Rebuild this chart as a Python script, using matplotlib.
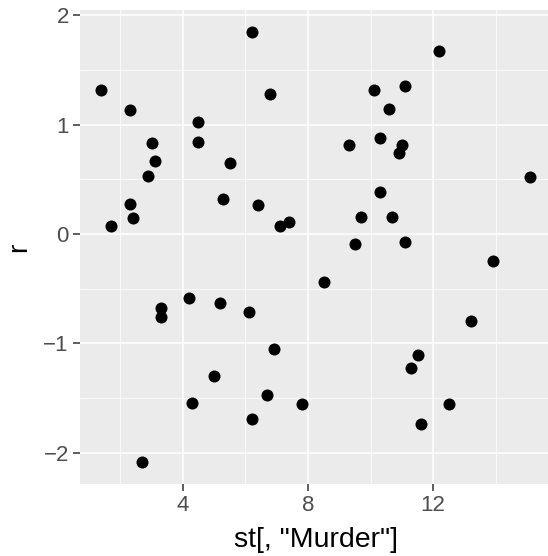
import matplotlib
matplotlib.use("Agg")
import matplotlib.pyplot as plt
from matplotlib.ticker import MultipleLocator

# state.x77 Murder rate vs random r
murder = [15.1, 11.3, 7.8, 10.1, 10.3, 6.8, 3.1, 6.2, 10.7, 13.9,
          6.2, 5.3, 10.3, 7.1, 2.3, 4.5, 10.6, 13.2, 2.7, 8.5,
          3.3, 11.1, 2.3, 12.5, 9.3, 5.0, 2.9, 11.5, 3.3, 5.2,
          9.7, 10.9, 11.1, 1.4, 7.4, 6.4, 4.2, 6.1, 2.4, 11.6,
          1.7, 11.0, 12.2, 4.5, 5.5, 9.5, 4.3, 6.7, 3.0, 6.9]
r = [0.52, -1.23, -1.56, 1.32, 0.88, 1.28, 0.67, 1.85, 0.15, -0.25,
     -1.69, 0.32, 0.38, 0.07, 1.13, 1.02, 1.14, -0.80, -2.09, -0.44,
     -0.68, 1.35, 0.275, -1.56, 0.81, -1.30, 0.53, -1.11, -0.76, -0.63,
     0.15, 0.74, -0.07, 1.32, 0.11, 0.26, -0.59, -0.71, 0.147, -1.74,
     0.07, 0.81, 1.67, 0.84, 0.65, -0.09, -1.55, -1.47, 0.83, -1.05]

xticks = [4, 8, 12]
yticks = [-2, -1, 0, 1, 2]

W, H = 548, 556
fig = plt.figure(figsize=(W / 100, H / 100), dpi=100)
fig.patch.set_facecolor("white")

# panel in pixels (right edge runs slightly past the figure, as in the reference)
left, right, top, bottom = 80, 551.6, 10, 484
ax = fig.add_axes([left / W, (H - bottom) / H, (right - left) / W, (bottom - top) / H])
ax.set_facecolor("#EBEBEB")

xr = max(murder) - min(murder)
yr = max(r) - min(r)
ax.set_xlim(min(murder) - 0.05 * xr, max(murder) + 0.05 * xr)
ax.set_ylim(min(r) - 0.05 * yr, max(r) + 0.05 * yr)

ax.set_xticks(xticks)
ax.set_yticks(yticks)
ax.set_yticklabels(["\u22122", "\u22121", "0", "1", "2"])
ax.xaxis.set_minor_locator(MultipleLocator(2))
ax.yaxis.set_minor_locator(MultipleLocator(0.5))
ax.grid(which="major", color="white", linewidth=1.1)
ax.grid(which="minor", color="white", linewidth=0.55)
ax.set_axisbelow(True)
for s in ax.spines.values():
    s.set_visible(False)

ax.tick_params(which="major", length=5, width=1.1, color="#333333",
               labelsize=16, labelcolor="#4D4D4D", pad=3)
ax.tick_params(which="minor", length=0)

ax.scatter(murder, r, s=75, color="black", linewidths=0, zorder=3)

font = "Liberation Sans"
for lab in ax.get_xticklabels() + ax.get_yticklabels():
    lab.set_family(font)
ax.set_xlabel('st[, "Murder"]', fontsize=20.5, family=font, labelpad=8)
ax.set_ylabel("r", fontsize=20.5, family=font, labelpad=8)

fig.savefig("out.png", dpi=100)
